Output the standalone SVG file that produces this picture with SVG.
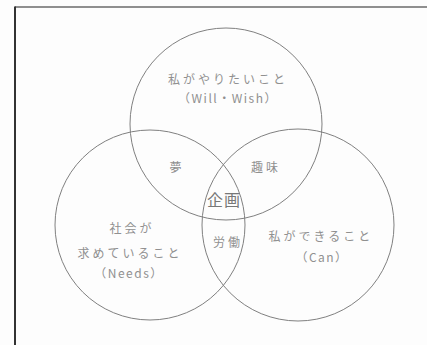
<svg xmlns="http://www.w3.org/2000/svg" width="427" height="345" viewBox="0 0 427 345">
<style>
.c{fill:none;stroke:#808080;stroke-width:1}
.t{font-family:"Noto Sans CJK JP","Noto Sans",sans-serif;font-size:12px;fill:#909090;text-anchor:middle;letter-spacing:3px}
.l{letter-spacing:1.5px}
.b{font-size:16px;fill:#777;letter-spacing:1px}
</style>
<rect width="427" height="345" fill="#fdfdfd"/>
<g id="frame">
<line x1="15" y1="7" x2="427" y2="7" stroke="#6a6a6a" stroke-width="1.5"/>
<line x1="15" y1="6.5" x2="15" y2="345" stroke="#333" stroke-width="2"/>
</g>
<g id="circles">
<circle id="will" class="c" cx="226" cy="124" r="96"/>
<circle id="needs" class="c" cx="150" cy="225" r="95"/>
<circle id="can" class="c" cx="298" cy="225" r="96"/>
</g>
<g id="labels">
<g id="label-will"><text class="t" x="228" y="84">私がやりたいこと</text><text class="t l" x="228" y="103">（Will・Wish）</text></g>
<g id="label-needs"><text class="t" x="132" y="233">社会が</text><text class="t" x="130" y="258">求めていること</text><text class="t l" x="129" y="278">（Needs）</text></g>
<g id="label-can"><text class="t" x="321" y="241">私ができること</text><text class="t l" x="322" y="262">（Can）</text></g>
<g id="dream"><text class="t" x="177" y="172">夢</text></g>
<g id="hobby"><text class="t" x="266" y="172">趣味</text></g>
<g id="plan"><text class="t b" x="224" y="206">企画</text></g>
<g id="labor"><text class="t" x="228" y="247">労働</text></g>
</g>
</svg>
